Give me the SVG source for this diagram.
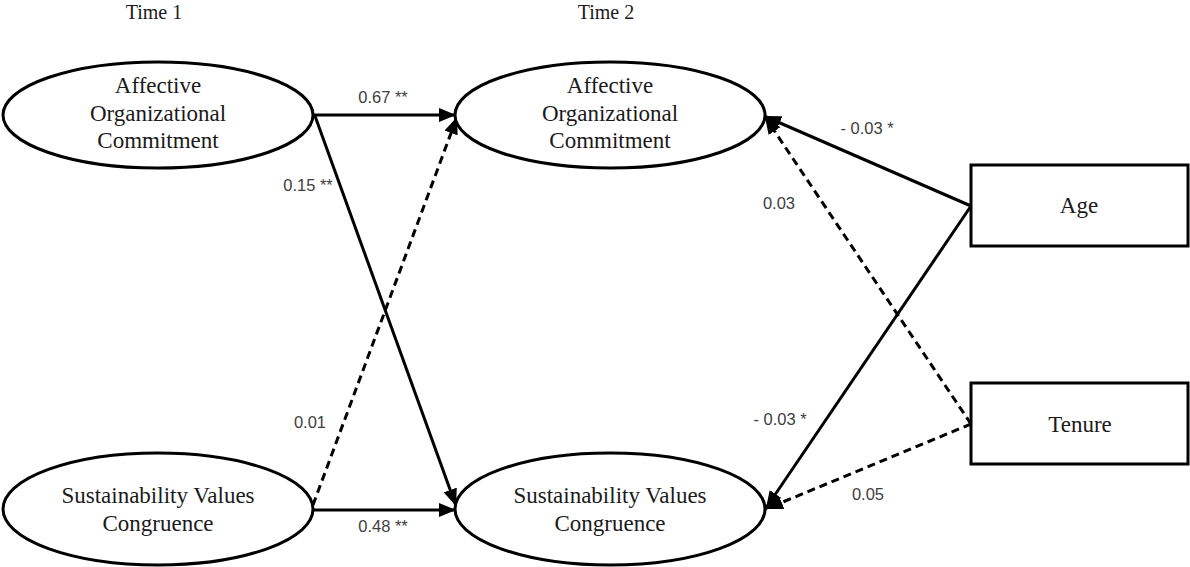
<svg xmlns="http://www.w3.org/2000/svg" width="1190" height="567" viewBox="0 0 1190 567">
<style>
.node{fill:#fff;stroke:#000;stroke-width:3}
.nt{font-family:"Liberation Serif","Times New Roman",serif;font-size:23px;fill:#1a1a1a;text-anchor:middle}
.tt{font-family:"Liberation Serif","Times New Roman",serif;font-size:20px;fill:#1a1a1a;text-anchor:middle}
.el{font-family:"Liberation Sans",Arial,sans-serif;font-size:16.5px;fill:#404040;text-anchor:middle}
.c{fill:none;stroke:#000;stroke-width:3;marker-end:url(#ah)}
.d{stroke-dasharray:8,5}
</style>
<defs>
<marker id="ah" markerUnits="userSpaceOnUse" markerWidth="18" markerHeight="14" refX="17" refY="7" orient="auto">
<path d="M0,0 L17,7 L0,14 z" fill="#000"/>
</marker>
</defs>
<rect width="1190" height="567" fill="#fff"/>
<text class="tt" x="154" y="19">Time 1</text>
<text class="tt" x="606" y="19">Time 2</text>
<g id="connectors">
<line class="c" x1="313" y1="115" x2="456" y2="115"/>
<line class="c" x1="313" y1="510" x2="456" y2="510"/>
<line class="c" x1="315" y1="116" x2="456" y2="506"/>
<line class="c d" x1="313" y1="505" x2="457" y2="117"/>
<line class="c" x1="971" y1="206" x2="764" y2="116"/>
<line class="c" x1="971" y1="206" x2="766" y2="508"/>
<line class="c d" x1="971" y1="424" x2="765" y2="117"/>
<line class="c d" x1="971" y1="424" x2="766" y2="509"/>
</g>
<g id="labels">
<text class="el" x="383" y="103">0.67 **</text>
<text class="el" x="383" y="532">0.48 **</text>
<text class="el" x="308" y="191">0.15 **</text>
<text class="el" x="310" y="428">0.01</text>
<text class="el" x="867" y="134">- 0.03 *</text>
<text class="el" x="779" y="209">0.03</text>
<text class="el" x="780" y="425">- 0.03 *</text>
<text class="el" x="868" y="500">0.05</text>
</g>
<g id="aoc1">
<ellipse class="node" cx="158" cy="115" rx="155" ry="53"/>
<text class="nt" x="158" y="93">Affective</text>
<text class="nt" x="158" y="120.5">Organizational</text>
<text class="nt" x="158" y="148">Commitment</text>
</g>
<g id="aoc2">
<ellipse class="node" cx="610" cy="115" rx="155" ry="53"/>
<text class="nt" x="610" y="93">Affective</text>
<text class="nt" x="610" y="120.5">Organizational</text>
<text class="nt" x="610" y="148">Commitment</text>
</g>
<g id="svc1">
<ellipse class="node" cx="158" cy="509" rx="155" ry="56"/>
<text class="nt" x="158" y="503">Sustainability Values</text>
<text class="nt" x="158" y="531">Congruence</text>
</g>
<g id="svc2">
<ellipse class="node" cx="610" cy="509" rx="155" ry="56"/>
<text class="nt" x="610" y="503">Sustainability Values</text>
<text class="nt" x="610" y="531">Congruence</text>
</g>
<g id="age">
<rect class="node" x="971" y="165" width="217" height="81"/>
<text class="nt" x="1079" y="213">Age</text>
</g>
<g id="tenure">
<rect class="node" x="971" y="383" width="217" height="81"/>
<text class="nt" x="1080" y="432">Tenure</text>
</g>
</svg>
